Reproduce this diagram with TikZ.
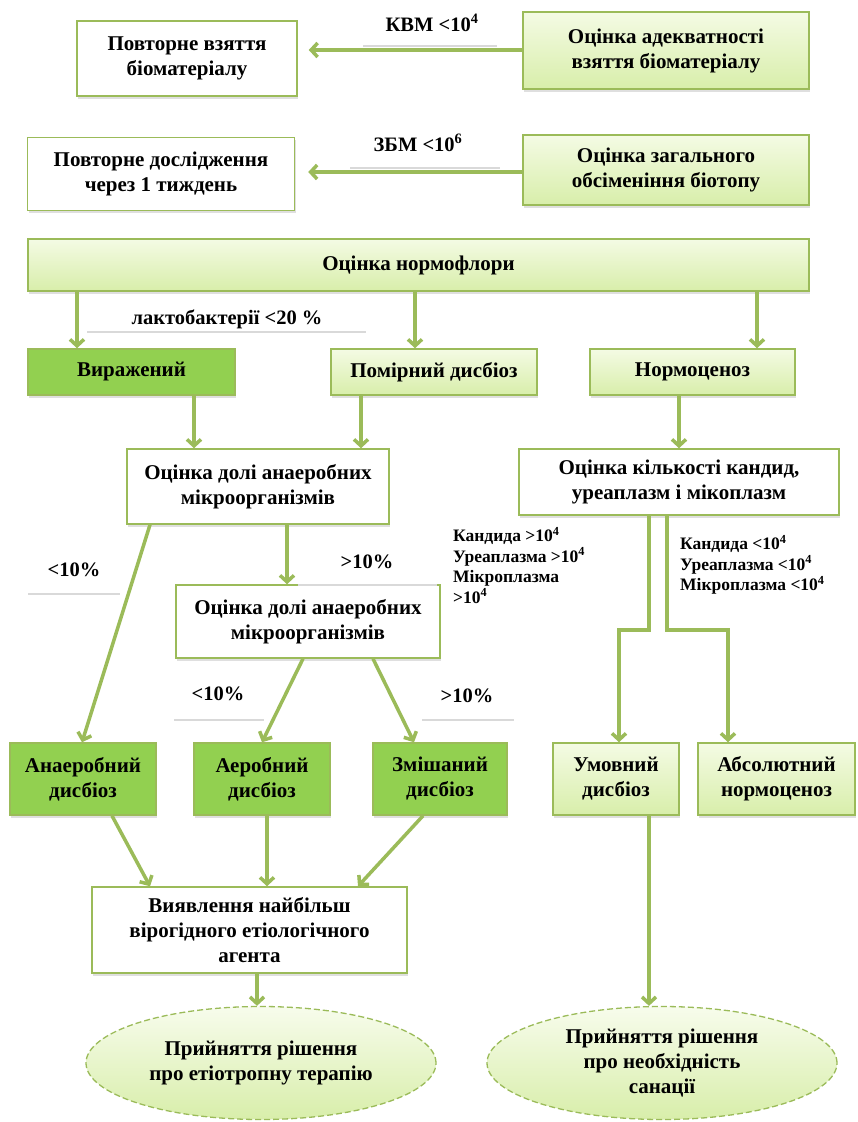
\documentclass[tikz,border=0pt]{standalone}
\usepackage{fontspec}
\setmainfont{Liberation Serif}
\usetikzlibrary{arrows.meta,shapes.geometric,shadows}
\definecolor{gborder}{HTML}{9BBB59}
\definecolor{gdark}{HTML}{92D050}
\definecolor{glightA}{HTML}{F4FBE4}
\definecolor{glightB}{HTML}{D8EEAA}
\definecolor{gline}{HTML}{D9D9D9}
\tikzset{
  base/.style={draw=gborder, line width=1.5pt, align=center, inner sep=2pt,
    font=\fontsize{21}{25}\selectfont\bfseries,
    drop shadow={opacity=0.25, shadow xshift=1pt, shadow yshift=-2.5pt}},
  wbox/.style={base, fill=white},
  lbox/.style={base, top color=glightA, bottom color=glightB},
  dbox/.style={base, fill=gdark},
  ellbox/.style={ellipse, draw=gborder, dash pattern=on 6pt off 3pt, line width=1.3pt, inner sep=0pt,
    align=center, top color=glightA!70!white, bottom color=glightB,
    font=\fontsize{21}{25}\selectfont\bfseries,
    minimum width=350pt, minimum height=113pt},
  arr/.style={draw=gborder, line width=3.5pt, -{Straight Barb[length=6.5pt,width=14pt]}},
  glab/.style={font=\fontsize{20.5}{23}\selectfont\bfseries, inner sep=0pt},
  slab/.style={font=\fontsize{17.5}{20.5}\selectfont\bfseries, align=left, inner sep=0pt},
  grayline/.style={draw=gline, line width=2pt},
}
\begin{document}
\begin{tikzpicture}[x=1pt,y=-1pt]
\useasboundingbox (0,0) rectangle (857,1122);
\fill[white] (0,0) rectangle (857,1122);

% top rows
\node[wbox, minimum width=220pt, minimum height=75pt] (rep1) at (187,58.5) {Повторне взяття\\біоматеріалу};
\node[lbox, minimum width=286pt, minimum height=77pt] (adeq) at (666,50.5) {Оцінка адекватності\\взяття біоматеріалу};
\node[wbox, minimum width=267pt, minimum height=73pt] (rep2) at (161,174) {Повторне дослідження\\через 1 тиждень};
\node[lbox, minimum width=286pt, minimum height=70pt] (zbm) at (666,170) {Оцінка загального\\обсіменіння біотопу};

\draw[arr] (adeq.west |- 0,50) -- ([xshift=11pt]rep1.east |- 0,50);
\draw[arr] (zbm.west |- 0,172) -- ([xshift=13pt]rep2.east |- 0,172);
\draw[grayline] (363,46) -- (497,46);
\draw[grayline] (350,168) -- (500,168);
\node[glab] (kvm) at (432,23) {КВМ <10\textsuperscript{4}};
\node[glab] (zbml) at (418,143) {ЗБМ <10\textsuperscript{6}};

% norm
\node[lbox, minimum width=781pt, minimum height=52pt] (norm) at (418.5,265) {Оцінка нормофлори};
\node[dbox, minimum width=207pt, minimum height=46pt] (vyr) at (131.5,372) {\raisebox{5pt}{Виражений}};
\node[lbox, minimum width=206pt, minimum height=46pt] (pom) at (434,372) {Помірний дисбіоз};
\node[lbox, minimum width=205pt, minimum height=46pt] (normc) at (692.5,372) {Нормоценоз};
\draw[arr] (norm.south -| 77,0) -- (vyr.north -| 77,0);
\draw[arr] (norm.south -| 415,0) -- (pom.north -| 415,0);
\draw[arr] (norm.south -| 757,0) -- (normc.north -| 757,0);
\draw[grayline] (87,332) -- (366,332);
\node[glab] (lakto) at (227,319) {лактобактерії <20 \%};

% second level
\node[wbox, minimum width=262pt, minimum height=75pt] (ocd1) at (258,486.5) {Оцінка долі анаеробних\\мікроорганізмів};
\node[wbox, minimum width=320pt, minimum height=66pt] (okk) at (679,482) {Оцінка кількості кандид,\\уреаплазм і мікоплазм};
\draw[arr] (vyr.south -| 194,0) -- (ocd1.north -| 194,0);
\draw[arr] (pom.south -| 361,0) -- (ocd1.north -| 361,0);
\draw[arr] (normc.south -| 679,0) -- (okk.north -| 679,0);

\node[wbox, minimum width=264pt, minimum height=73pt] (ocd2) at (308,621.5) {Оцінка долі анаеробних\\мікроорганізмів};
\draw[arr] (ocd1.south -| 287,0) -- (ocd2.north -| 287,0);
\draw[grayline] (298,585) -- (437,585);
\node[glab] (gt1) at (367,562) {>10\%};
\draw[grayline] (28,594) -- (120,594);
\node[glab] (lt1) at (74,570) {<10\%};

\node[slab, anchor=north west] (cand1) at (453,527) {Кандида >10\textsuperscript{4}\\Уреаплазма >10\textsuperscript{4}\\Мікроплазма\\>10\textsuperscript{4}};
\node[slab, anchor=north west] (cand2) at (680,535) {Кандида <10\textsuperscript{4}\\Уреаплазма <10\textsuperscript{4}\\Мікроплазма <10\textsuperscript{4}};

% bottom row boxes
\node[dbox, minimum width=146pt, minimum height=72pt] (anae) at (83,779) {Анаеробний\\дисбіоз};
\node[dbox, minimum width=136pt, minimum height=72pt] (aero) at (262,779) {Аеробний\\дисбіоз};
\node[dbox, minimum width=134pt, minimum height=72pt] (mix) at (440,779) {Змішаний\\дисбіоз};
\node[lbox, minimum width=126pt, minimum height=72pt] (umov) at (616,779) {Умовний\\дисбіоз};
\node[lbox, minimum width=157pt, minimum height=72pt] (absn) at (776.5,779) {Абсолютний\\нормоценоз};

\draw[arr] (ocd1.south -| 150,0) -- (anae.north -| 82,0);
\draw[arr] (ocd2.south -| 303,0) -- (aero.north -| 262,0);
\draw[arr] (ocd2.south -| 373,0) -- (mix.north -| 414,0);
\draw[grayline] (174,720) -- (264,720);
\node[glab] (lt2) at (218,694) {<10\%};
\draw[grayline] (422,720) -- (514,720);
\node[glab] (gt2) at (467,696) {>10\%};

\draw[arr] (okk.south -| 649,0) -- (649,630) -- (619,630) -- (umov.north -| 619,0);
\draw[arr] (okk.south -| 667,0) -- (667,630) -- (728,630) -- (absn.north -| 728,0);

% final
\node[wbox, minimum width=315pt, minimum height=86pt] (vyav) at (249.5,930) {Виявлення найбільш\\вірогідного етіологічного\\агента};
\draw[arr] (anae.south -| 112,0) -- (vyav.north -| 150,0);
\draw[arr] (aero.south -| 267,0) -- (vyav.north -| 267,0);
\draw[arr] (mix.south -| 423,0) -- (vyav.north -| 358,0);

\node[ellbox] (ell1) at (261,1063) {Прийняття рішення\\про етіотропну терапію};
\node[ellbox] (ell2) at (662,1063) {Прийняття рішення\\про необхідність\\санації};
\draw[arr] (vyav.south -| 257,0) -- (ell1.north -| 257,0);
\draw[arr] (umov.south -| 649,0) -- (ell2.north -| 649,0);
\end{tikzpicture}
\end{document}
